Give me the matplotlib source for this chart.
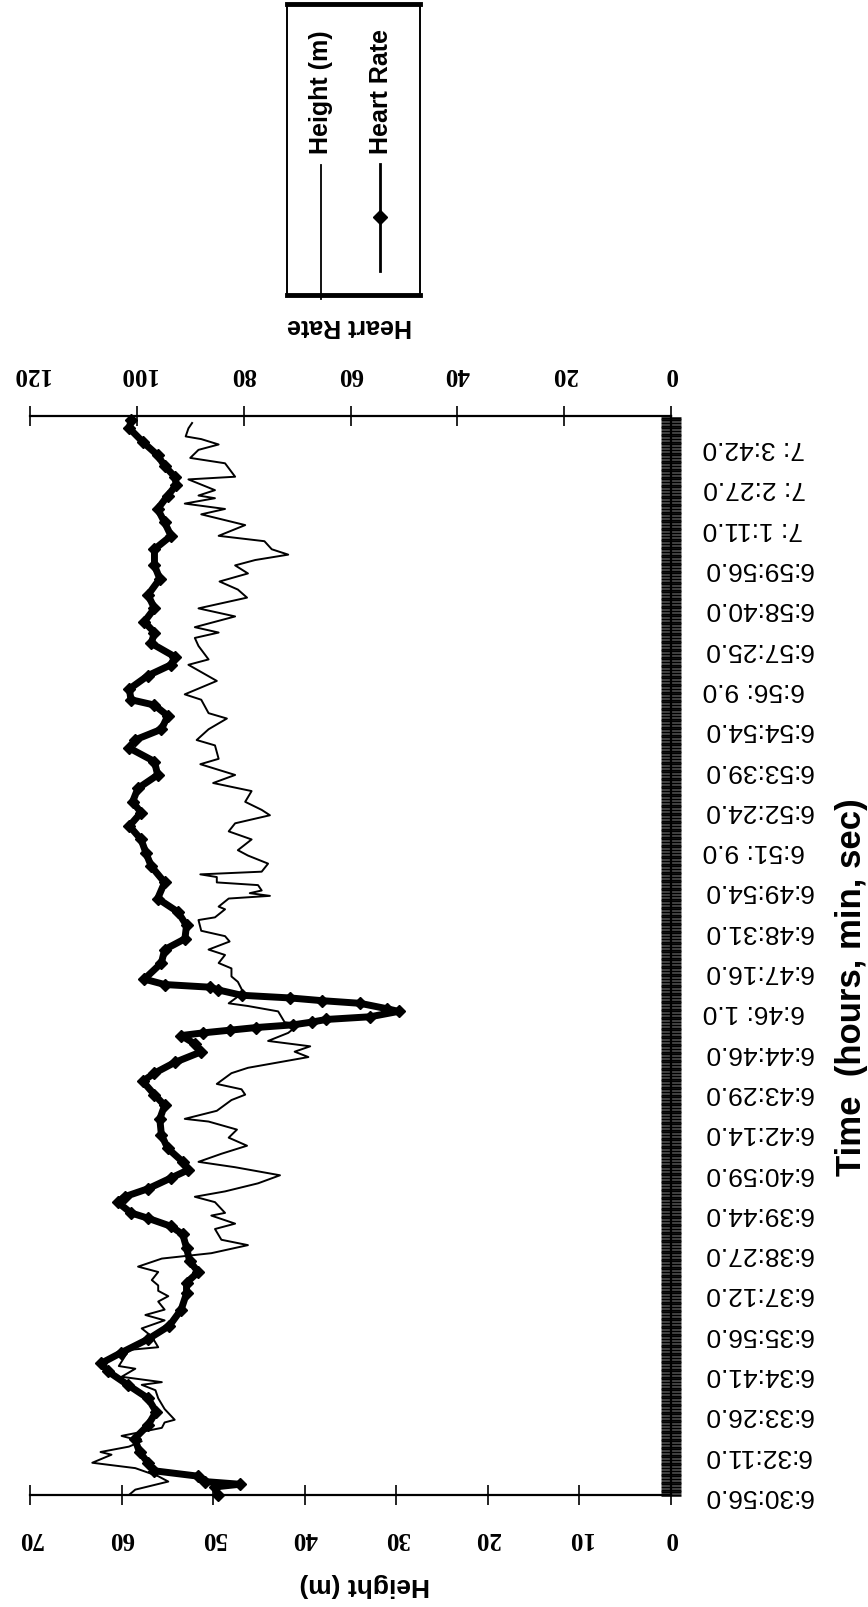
import matplotlib.pyplot as plt
from matplotlib.patches import Rectangle

plt.rcParams['font.family'] = ['Liberation Sans', 'DejaVu Sans']

# time tick labels, one every 15 samples
time_labels = ["6:30:56.0", "6:32:11.0", "6:33:26.0", "6:34:41.0", "6:35:56.0",
               "6:37:12.0", "6:38:27.0", "6:39:44.0", "6:40:59.0", "6:42:14.0",
               "6:43:29.0", "6:44:46.0", "6:46: 1.0", "6:47:16.0", "6:48:31.0",
               "6:49:54.0", "6:51: 9.0", "6:52:24.0", "6:53:39.0", "6:54:54.0",
               "6:56: 9.0", "6:57:25.0", "6:58:40.0", "6:59:56.0", "7: 1:11.0",
               "7: 2:27.0", "7: 3:42.0"]
label_step = 15
n_samples = 402
height_ticks = [0, 10, 20, 30, 40, 50, 60, 70]
hr_ticks = [0, 20, 40, 60, 80, 100, 120]

# heart rate (sample number, bpm)
hr_idx = [0, 3, 4, 5, 7, 9, 12, 16, 21, 26, 31, 36, 41, 46, 49, 53, 58, 63, 69, 75,
          79, 83, 87, 92, 97, 100, 103, 105, 109, 111, 114, 118, 121, 124, 129, 134,
          140, 145, 149, 154, 157, 161, 165, 168, 171, 172, 173, 174, 175, 176, 177,
          178, 180, 181, 183, 184, 185, 186, 188, 189, 190, 192, 198, 203, 207, 212,
          217, 222, 228, 234, 239, 244, 249, 254, 258, 263, 268, 273, 278, 281, 285,
          290, 294, 296, 300, 305, 309, 312, 317, 321, 325, 330, 335, 341, 346, 352,
          357, 362, 367, 372, 376, 379, 383, 387, 392, 397, 400]
hr_val = [84.8, 85.4, 80.7, 87.3, 88.5, 96.7, 97.9, 99.5, 100.4, 97.9, 96.4, 97.9,
          101.7, 105.4, 106.7, 102.9, 97.9, 93.9, 91.7, 90.7, 90.7, 88.5, 90.1, 90.7,
          91.4, 93.6, 97.9, 101.1, 103.6, 102.3, 97.9, 93.6, 90.4, 91.4, 94.2, 95.4,
          95.7, 94.8, 96.7, 98.9, 96.7, 92.9, 87.9, 89.2, 91.7, 87.6, 82.6, 77.6,
          70.7, 67.3, 64.5, 56.3, 51.0, 53.2, 58.2, 65.4, 71.3, 80.4, 84.8, 86.3,
          94.8, 98.6, 95.4, 94.8, 91.0, 90.7, 92.3, 96.1, 94.8, 97.3, 98.3, 99.2,
          101.4, 99.2, 100.8, 99.8, 96.1, 96.7, 101.4, 100.4, 95.4, 94.2, 96.7, 101.1,
          101.4, 97.9, 93.6, 92.9, 97.3, 96.7, 98.6, 96.7, 97.9, 95.7, 96.7, 96.7,
          93.6, 94.8, 96.1, 94.2, 92.6, 92.9, 94.8, 96.1, 98.9, 101.4, 101.1]

# height (sample number, m)
h_idx = [0, 2, 5, 7, 10, 12, 15, 16, 18, 20, 22, 25, 27, 28, 32, 36, 39, 41, 42, 44,
         47, 48, 54, 55, 59, 62, 65, 67, 69, 72, 74, 76, 78, 80, 83, 85, 88, 90, 93,
         95, 99, 101, 104, 105, 109, 111, 113, 116, 119, 122, 124, 127, 130, 133,
         136, 139, 140, 143, 147, 149, 151, 153, 157, 159, 163, 165, 167, 169, 172,
         175, 176, 180, 182, 183, 187, 191, 193, 196, 198, 201, 203, 206, 208, 210,
         214, 215, 218, 219, 222, 223, 224, 225, 227, 228, 230, 231, 232, 235, 238,
         240, 244, 247, 250, 253, 255, 258, 262, 265, 268, 272, 274, 279, 281, 285,
         289, 291, 296, 298, 303, 309, 311, 316, 319, 321, 323, 327, 330, 334, 337,
         340, 343, 346, 348, 350, 352, 355, 357, 361, 365, 367, 369, 371, 372, 374,
         378, 379, 384, 386, 389, 391, 393, 394, 397, 399]
h_val = [59.2, 58.5, 54.9, 56.0, 58.5, 63.2, 61.1, 62.3, 59.2, 57.8, 60.0, 55.6, 55.3,
         54.2, 55.3, 56.0, 56.3, 57.8, 55.6, 60.0, 58.5, 60.3, 59.2, 56.0, 56.7, 57.8,
         55.3, 57.4, 55.3, 56.0, 54.9, 56.0, 56.0, 56.7, 56.0, 58.2, 55.6, 50.2, 46.2,
         49.1, 49.8, 47.6, 50.2, 48.7, 49.8, 52.0, 48.7, 45.1, 42.7, 47.6, 51.6, 49.1,
         46.3, 48.3, 47.4, 50.5, 53.1, 49.6, 48.0, 46.5, 46.9, 49.6, 48.0, 46.2, 39.6,
         41.1, 39.4, 44.0, 41.8, 40.7, 42.2, 42.9, 46.2, 48.3, 46.7, 47.3, 48.0, 48.0,
         49.4, 48.7, 50.5, 48.2, 48.7, 51.3, 51.6, 49.8, 48.7, 49.4, 48.3, 43.8, 46.0,
         44.7, 45.1, 49.6, 49.6, 51.4, 44.7, 44.0, 46.2, 47.3, 45.8, 48.3, 47.6, 43.8,
         44.7, 46.5, 45.8, 50.0, 47.6, 51.4, 49.4, 49.8, 51.8, 50.5, 48.5, 50.5, 51.3,
         53.1, 49.6, 52.7, 50.5, 51.6, 52.0, 49.4, 52.0, 47.6, 51.6, 46.3, 47.3, 49.3,
         46.2, 47.6, 45.4, 41.8, 43.6, 44.4, 49.4, 46.5, 51.3, 48.7, 53.1, 49.8, 51.6,
         49.8, 52.7, 47.6, 48.7, 52.5, 51.6, 49.4, 51.3, 53.0, 52.7, 52.3]

W, H = 868, 1608
fig = plt.figure(figsize=(W / 100, H / 100), dpi=100)
ax = fig.add_axes([30 / W, 1 - 1496 / H, 641 / W, 1079 / H])

# height against sample number (page is turned: time runs upward)
ax.plot(h_val, h_idx, color='black', lw=1.4)
ax.set_xlim(70, 0)
ax.set_ylim(0, n_samples - 0.4)

num_font = dict(fontfamily='Liberation Serif', fontweight='bold', fontsize=18, rotation=180)
ax.set_xticks(height_ticks, [str(t) for t in height_ticks], **num_font)
ax.tick_params(axis='x', direction='inout', length=14, width=1.2, pad=15)

ax.yaxis.tick_right()
ax.set_yticks(range(0, len(time_labels) * label_step, label_step), time_labels,
              fontsize=19, rotation=180)
ax.set_yticks(range(0, n_samples), minor=True)
ax.tick_params(axis='y', which='both', direction='inout', length=14, pad=16,
               left=False, right=True, width=1.8)
for lab in ax.get_yticklabels():
    lab.set_va('center')

for s in ['top', 'left']:
    ax.spines[s].set_visible(False)
for s in ['bottom', 'right']:
    ax.spines[s].set_linewidth(1.6)

# heart rate on the second axis
ax2 = ax.twiny()
ax2.plot(hr_val, hr_idx, color='black', lw=5, marker='D', ms=6, clip_on=False)
ax2.set_xlim(120, 0)
ax2.set_xticks(hr_ticks, [str(t) for t in hr_ticks], **num_font)
ax2.tick_params(axis='x', direction='inout', length=14, width=1.2, pad=15)
for s in ['bottom', 'left', 'right']:
    ax2.spines[s].set_visible(False)
ax2.spines['top'].set_linewidth(1.6)

fig.text(365 / W, 1 - 1585 / H, 'Height (m)', rotation=180, ha='center', va='center',
         fontsize=19, fontweight='bold')
fig.text(350 / W, 1 - 326 / H, 'Heart Rate', rotation=180, ha='center', va='center',
         fontsize=18, fontweight='bold')
fig.text(852 / W, 1 - 987 / H, 'Time  (hours, min, sec)', rotation=90, ha='center',
         va='center', fontsize=25, fontweight='bold')

# legend box drawn by hand, turned like the rest of the page
lg = fig.add_axes([0, 0, 1, 1])
lg.set_xlim(0, W)
lg.set_ylim(H, 0)
lg.axis('off')
lg.add_patch(Rectangle((287, 5), 133, 291, fill=False, lw=1.4, ec='black'))
lg.plot([287, 420], [5, 5], color='black', lw=3.5)
lg.plot([287, 420], [296, 296], color='black', lw=3.5)
lg.plot([321, 321], [166, 300], color='black', lw=1.3)
lg.plot([380, 380], [165, 272], color='black', lw=2)
lg.plot([380], [218], color='black', marker='D', ms=7)
lg.text(321, 154, 'Height (m)', rotation=90, ha='center', va='bottom',
        fontsize=18, fontweight='bold')
lg.text(381, 154, 'Heart Rate', rotation=90, ha='center', va='bottom',
        fontsize=18, fontweight='bold')

fig.savefig('out.png', dpi=100, facecolor='white')
